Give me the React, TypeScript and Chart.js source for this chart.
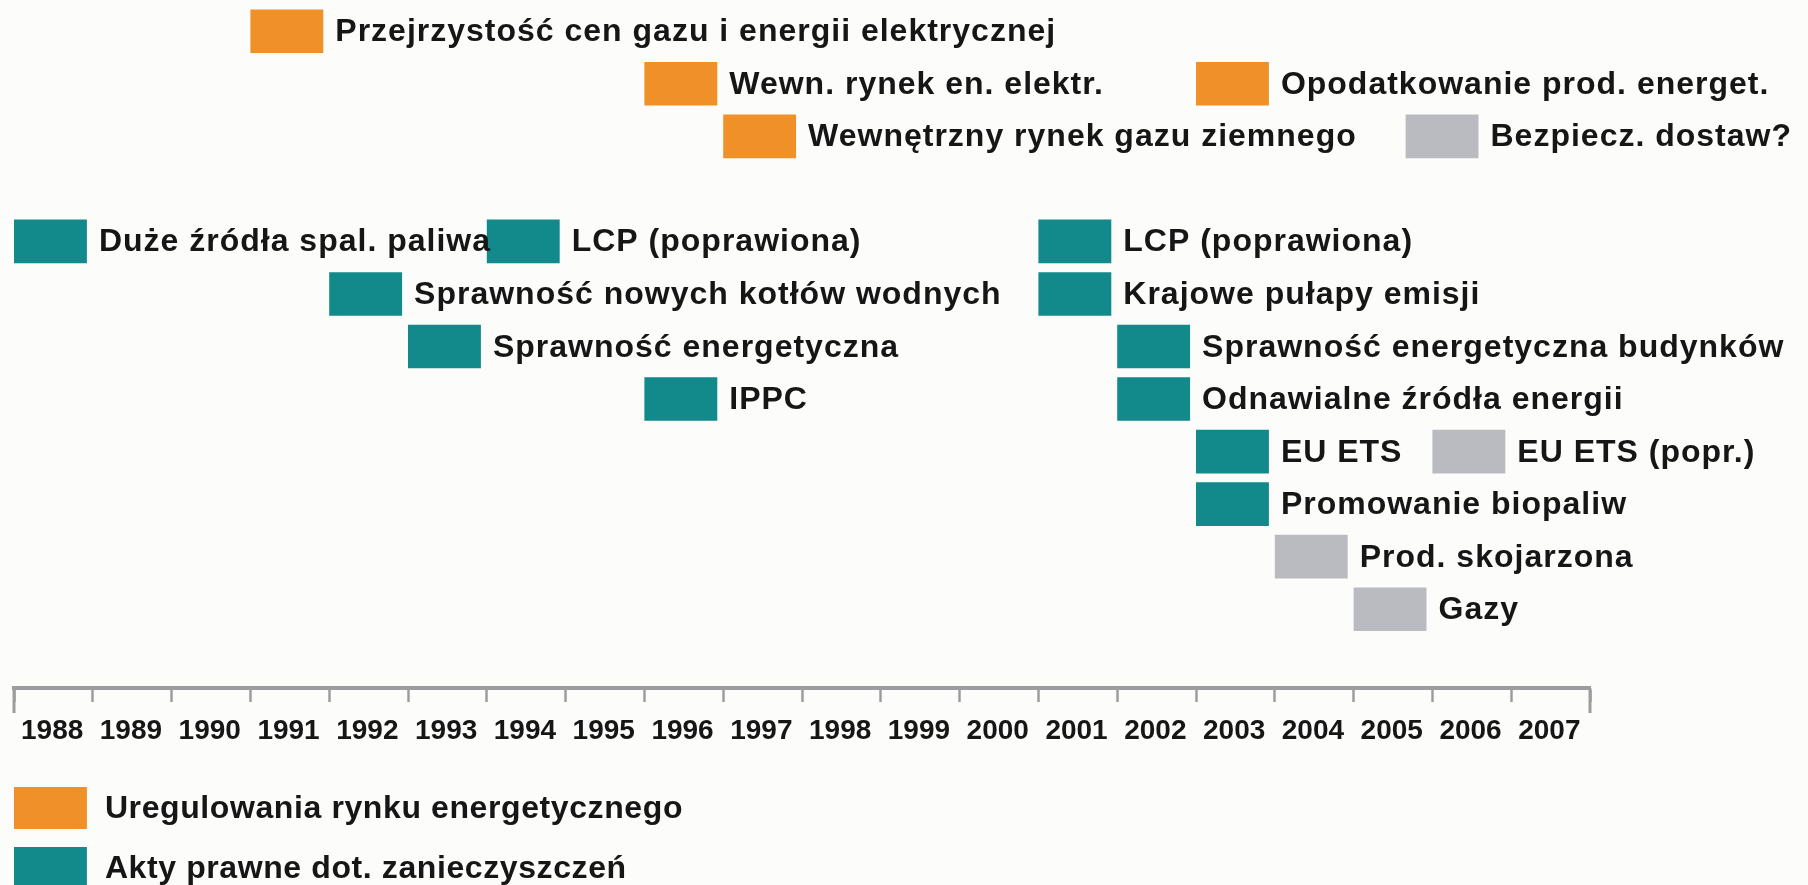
import React, { useEffect, useRef } from 'react';
import { Chart, registerables } from 'chart.js';

Chart.register(...registerables);

// ---- data ----
const rowKeys = ['r0', 'r1', 'r2', 'r3', 'r4', 'r5', 'r6', 'r7', 'r8', 'r9', 'r10', 'r11', 'r12'];

const itemLabels = [
  'Przejrzystość cen gazu i energii elektrycznej',
  'Wewn. rynek en. elektr.',
  'Opodatkowanie prod. energet.',
  'Wewnętrzny rynek gazu ziemnego',
  'Bezpiecz. dostaw?',
  'Duże źródła spal. paliwa',
  'LCP (poprawiona)',
  'LCP (poprawiona)',
  'Sprawność nowych kotłów wodnych',
  'Krajowe pułapy emisji',
  'Sprawność energetyczna',
  'Sprawność energetyczna budynków',
  'IPPC',
  'Odnawialne źródła energii',
  'EU ETS',
  'EU ETS (popr.)',
  'Promowanie biopaliw',
  'Prod. skojarzona',
  'Gazy',
];
const itemStart = [
  1991, 1996, 2003, 1997, 2005.66,
  1988, 1994, 2001, 1992, 2001, 1993, 2002, 1996, 2002, 2003, 2006, 2003, 2004, 2005,
];
const itemRow = [
  0, 1, 1, 2, 2,
  4, 4, 4, 5, 5, 6, 6, 7, 7, 8, 8, 9, 10, 11,
];
const itemGroup = [
  0, 0, 0, 0, 2,
  1, 1, 1, 1, 1, 1, 1, 1, 1, 1, 2, 1, 2, 2,
];

const groupNames = ['Uregulowania rynku energetycznego', 'Akty prawne dot. zanieczyszczeń', 'Planowane'];
const groupColors = ['#ef9128', '#12898a', '#b9bbc0'];
const legendGroups = [0, 1];

const yearMin = 1988;
const yearMax = 2008;
const boxSpan = 0.925;

const FONT = '"Liberation Sans", Arimo, Arial, sans-serif';
const FONT_SIZE = 32;
const TEXT_COLOR = '#161616';
const AXIS_COLOR = '#9c9d9f';
const BG = '#fcfdfb';

export default function App() {
  const ref = useRef<HTMLCanvasElement | null>(null);

  useEffect(() => {
    const canvas = ref.current;
    if (!canvas) return;

    const datasets = groupNames.map((name, g) => {
      const idx = itemGroup.map((gg, i) => (gg === g ? i : -1)).filter((i) => i >= 0);
      return {
        label: name,
        data: idx.map((i) => ({ x: [itemStart[i], itemStart[i] + boxSpan], y: rowKeys[itemRow[i]] })),
        itemText: idx.map((i) => itemLabels[i]),
        backgroundColor: groupColors[g],
        borderWidth: 0,
        grouped: false,
        categoryPercentage: 1,
        barPercentage: 0.83,
      } as any;
    });

    const bgPlugin = {
      id: 'bg',
      beforeDraw(chart: any) {
        const { ctx } = chart;
        ctx.save();
        ctx.fillStyle = BG;
        ctx.fillRect(0, 0, chart.width, chart.height);
        ctx.restore();
      },
    };

    const labelPlugin = {
      id: 'boxLabels',
      afterDatasetsDraw(chart: any) {
        const { ctx } = chart;
        ctx.save();
        ctx.font = `bold ${FONT_SIZE}px ${FONT}`;
        (ctx as any).letterSpacing = '1px';
        ctx.fillStyle = TEXT_COLOR;
        ctx.textBaseline = 'alphabetic';
        ctx.textAlign = 'left';
        chart.data.datasets.forEach((ds: any, di: number) => {
          const meta = chart.getDatasetMeta(di);
          meta.data.forEach((el: any, j: number) => {
            const right = Math.max(el.x, el.base);
            ctx.fillText(ds.itemText[j], right + 12, el.y + 10);
          });
        });
        ctx.restore();
      },
    };

    const axisEndPlugin = {
      id: 'axisEnds',
      afterDraw(chart: any) {
        const { ctx } = chart;
        const xs = chart.scales.x;
        const top = xs.top;
        ctx.save();
        ctx.strokeStyle = AXIS_COLOR;
        ctx.lineWidth = 3;
        [yearMin, yearMax].forEach((v) => {
          const px = xs.getPixelForValue(v);
          ctx.beginPath();
          ctx.moveTo(px, top);
          ctx.lineTo(px, top + 25);
          ctx.stroke();
        });
        ctx.restore();
      },
    };

    const legendPlugin = {
      id: 'customLegend',
      afterDraw(chart: any) {
        const { ctx } = chart;
        const x0 = chart.scales.x.getPixelForValue(yearMin);
        const w = chart.scales.x.getPixelForValue(yearMin + boxSpan) - x0;
        const h = 42;
        const startY = 808;
        const pitch = 60;
        ctx.save();
        ctx.font = `bold ${FONT_SIZE}px ${FONT}`;
        (ctx as any).letterSpacing = '0.6px';
        ctx.textBaseline = 'alphabetic';
        ctx.textAlign = 'left';
        legendGroups.forEach((g, k) => {
          const cy = startY + k * pitch;
          ctx.fillStyle = groupColors[g];
          ctx.fillRect(x0, cy - h / 2, w, h);
          ctx.fillStyle = TEXT_COLOR;
          ctx.fillText(groupNames[g], x0 + w + 18, cy + 10);
        });
        ctx.restore();
      },
    };

    const chart = new Chart(canvas, {
      type: 'bar',
      data: { labels: rowKeys, datasets },
      options: {
        indexAxis: 'y',
        animation: false,
        responsive: false,
        maintainAspectRatio: false,
        layout: { padding: { left: 14, right: 218, top: 5, bottom: 0 } },
        plugins: { legend: { display: false }, tooltip: { enabled: false } },
        scales: {
          y: {
            type: 'category',
            display: false,
            offset: true,
            grid: { display: false },
          },
          x: {
            type: 'linear',
            position: 'bottom',
            min: yearMin,
            max: yearMax,
            afterFit(scale: any) {
              scale.height = 197;
            },
            border: { display: true, color: AXIS_COLOR, width: 4 },
            grid: {
              display: true,
              drawOnChartArea: false,
              drawTicks: true,
              tickLength: 14,
              tickWidth: 2.5,
              tickColor: AXIS_COLOR,
              color: AXIS_COLOR,
            },
            ticks: {
              stepSize: 1,
              autoSkip: false,
              maxRotation: 0,
              minRotation: 0,
              align: 'start',
              labelOffset: 7,
              padding: 12,
              color: TEXT_COLOR,
              font: { family: FONT, size: 28, weight: 'bold' },
              callback: (v: any) => (Number(v) >= yearMax ? '' : String(v)),
            },
          },
        },
      } as any,
      plugins: [bgPlugin, labelPlugin, axisEndPlugin, legendPlugin],
    });

    return () => chart.destroy();
  }, []);

  return (
    <div style={{ position: 'fixed', left: 0, top: 0, width: 1808, height: 885, background: BG }}>
      <canvas ref={ref} width={1808} height={885} style={{ display: 'block', width: 1808, height: 885 }} />
    </div>
  );
}
